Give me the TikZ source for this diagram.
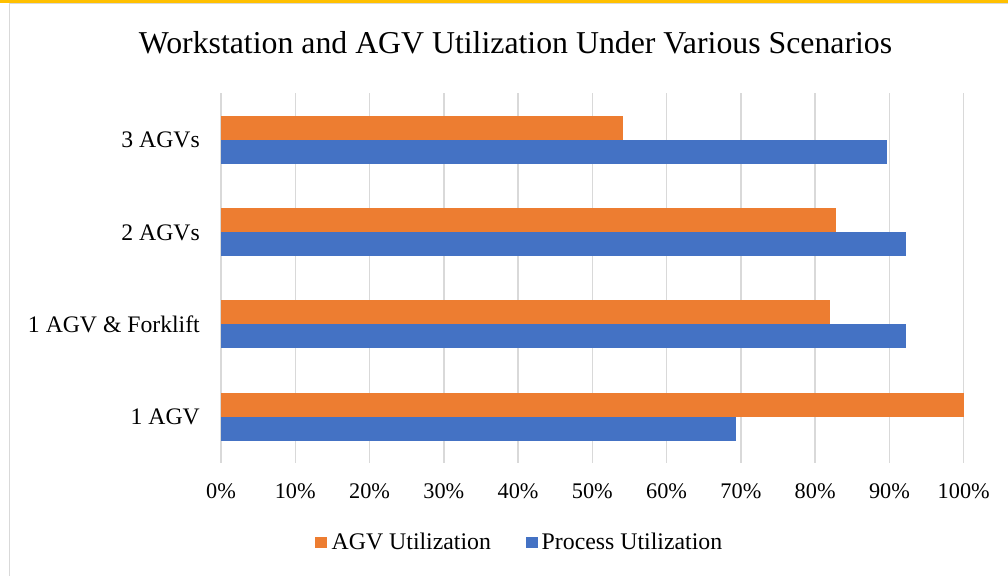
\documentclass[tikz,border=0pt]{standalone}
\usepackage{fontspec}
\setmainfont{Liberation Serif}
\definecolor{agvc}{HTML}{ED7D31}
\definecolor{procc}{HTML}{4472C4}
\definecolor{gridc}{HTML}{D9D9D9}
\definecolor{topbar}{HTML}{FFC000}
\begin{document}
\begin{tikzpicture}[x=1pt,y=-1pt,
  gridline/.style={draw=gridc, line width=1.4pt},
  ticklabel/.style={inner sep=0pt, anchor=base, font=\fontsize{22.3}{26}\selectfont},
  catlabel/.style={inner sep=0pt, anchor=base east, font=\fontsize{23.7}{28}\selectfont},
  legendlabel/.style={inner sep=0pt, anchor=base west, font=\fontsize{23.8}{28}\selectfont},
  titlelabel/.style={inner sep=0pt, anchor=base, font=\fontsize{31.8}{36}\selectfont},
  agvbar/.style={fill=agvc},
  procbar/.style={fill=procc}]
\useasboundingbox (0,0) rectangle (1008,576);
\fill[white] (0,0) rectangle (1008,576);
% frame
\fill[topbar] (0,0) rectangle (1008,3);
\draw[gridc, line width=1.5pt] (9.6,3) -- (9.6,576);
\draw[gridc, line width=1.3pt] (9.6,3.8) -- (1008,3.8);
% title
\node[titlelabel] (title) at (515.5,53.3) {Workstation and AGV Utilization Under Various Scenarios};
% gridlines and ticks
\foreach \i in {0,...,10}{
  \pgfmathsetmacro\gx{221+74.27*\i}
  \pgfmathtruncatemacro\v{10*\i}
  \draw[gridline] (\gx,93.3) -- (\gx,462.7);
  \node[ticklabel] (tick\i) at (\gx,498.3) {\v\%};
}
% bars
\foreach \c/\a/\p/\l [count=\k] in {139.7/54.1/89.7/3 AGVs, 232.3/82.8/92.2/2 AGVs, 324.4/82.0/92.2/1 AGV \& Forklift, 417/100/69.4/1 AGV}{
  \fill[agvbar] (221,\c-24) rectangle ({221+7.427*\a},\c);
  \fill[procbar] (221,\c) rectangle ({221+7.427*\p},\c+24);
  \node[catlabel] (cat\k) at (200,\c+7.7) {\l};
}
% legend
\fill[agvbar] (315,536.7) rectangle (326.7,548.3);
\node[legendlabel] (legA) at (331.5,549.3) {AGV Utilization};
\fill[procbar] (526,536.7) rectangle (537.7,548.3);
\node[legendlabel] (legP) at (541.5,549.3) {Process Utilization};
\end{tikzpicture}
\end{document}
